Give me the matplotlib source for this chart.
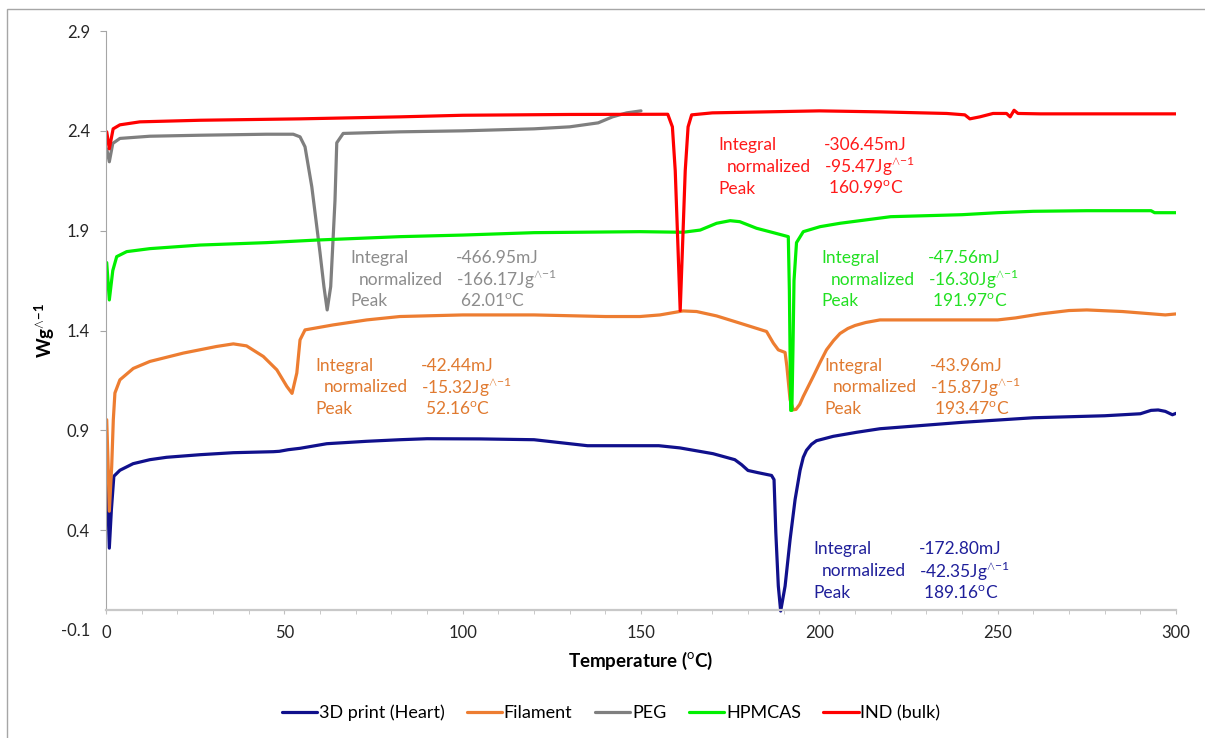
import numpy as np
import matplotlib
matplotlib.use("Agg")
import matplotlib.pyplot as plt
from matplotlib.patches import Rectangle

plt.rcParams['font.family'] = ['Lato', 'DejaVu Sans']
plt.rcParams['mathtext.fontset'] = 'custom'
plt.rcParams['mathtext.rm'] = 'Lato'
plt.rcParams['mathtext.bf'] = 'Lato:bold'

#########################################################
# DATA
#########################################################

print_t = [0.2, 0.6, 0.93, 1.5, 2.2, 3.9, 7.6, 12.3, 17, 26.4, 35.7, 46.9, 48.6, 51.1,
           54.4, 61.9, 73, 82.4, 90, 105, 120, 135, 155, 160.9, 170.2, 176.3, 178.2,
           180, 182.8, 186.6, 187.3, 187.8, 188.5, 189.16, 190.4, 191.8, 193.2, 194.6,
           195.5, 196.4, 197.8, 199.2, 203.9, 210.4, 217, 240, 260, 280, 290, 293, 295,
           297, 299, 300]
print_y = [0.68, 0.5, 0.31, 0.5, 0.67, 0.70, 0.733, 0.753, 0.765, 0.778, 0.788, 0.793,
           0.795, 0.803, 0.81, 0.833, 0.845, 0.853, 0.858, 0.857, 0.853, 0.823, 0.823,
           0.812, 0.783, 0.753, 0.728, 0.699, 0.688, 0.674, 0.653, 0.388, 0.12, -0.005,
           0.12, 0.353, 0.553, 0.70, 0.765, 0.80, 0.83, 0.848, 0.87, 0.89, 0.908, 0.94,
           0.963, 0.973, 0.983, 1.0, 1.002, 0.995, 0.978, 0.985]

fil_t = [0.2, 0.6, 0.93, 1.6, 2.05, 2.5, 3.9, 7.65, 12.3, 21.7, 31, 35.7, 39.4, 44.1,
         47.9, 50.7, 52.16, 53.5, 54.4, 55.8, 63.7, 73.1, 82.4, 100, 120, 140, 149.7,
         155.3, 161.8, 165.6, 171.2, 177.7, 185.2, 187.1, 188.5, 190.4, 190.9, 191.8,
         192.7, 193.47, 194.5, 195.5, 196.9, 198.3, 200.2, 202, 204, 205.8, 208, 210,
         213, 217, 230, 250, 255, 262, 270, 275, 285, 297, 300]
fil_y = [0.953, 0.72, 0.495, 0.72, 0.953, 1.087, 1.153, 1.21, 1.245, 1.287, 1.32, 1.333,
         1.323, 1.27, 1.203, 1.12, 1.085, 1.187, 1.353, 1.403, 1.428, 1.453, 1.47,
         1.478, 1.478, 1.47, 1.47, 1.478, 1.498, 1.495, 1.473, 1.437, 1.395, 1.337,
         1.303, 1.29, 1.22, 1.053, 1.003, 1.005, 1.03, 1.07, 1.12, 1.17, 1.24, 1.303,
         1.35, 1.385, 1.41, 1.425, 1.44, 1.453, 1.453, 1.453, 1.463, 1.483, 1.5, 1.503,
         1.495, 1.478, 1.483]

peg_t = [0.2, 0.93, 1.9, 3.9, 12.3, 26.4, 45, 52.5, 54.4, 55.8, 57.7, 59.1, 60, 61.1,
         62.01, 63, 63.7, 64.2, 64.7, 66.5, 82.4, 100, 120, 130, 138, 142, 146, 150]
peg_y = [2.31, 2.245, 2.337, 2.362, 2.373, 2.378, 2.383, 2.383, 2.37, 2.32, 2.12, 1.92,
         1.79, 1.62, 1.503, 1.62, 1.87, 2.05, 2.34, 2.387, 2.395, 2.40, 2.41, 2.42,
         2.44, 2.47, 2.49, 2.50]

hpm_t = [0.2, 0.93, 1.9, 3, 5.8, 12.3, 26.4, 45, 59.1, 82.4, 100, 120, 149.7, 161.8,
         166.6, 171.2, 175, 177.7, 182.4, 187.1, 191.3, 191.6, 191.85, 191.97, 192.3,
         192.6, 192.9, 193.6, 195.5, 200.2, 205.8, 220, 240, 250, 260, 275, 293, 294,
         300]
hpm_y = [1.74, 1.553, 1.70, 1.77, 1.795, 1.81, 1.828, 1.84, 1.853, 1.87, 1.878, 1.89,
         1.895, 1.892, 1.903, 1.937, 1.95, 1.945, 1.912, 1.89, 1.87, 1.6, 1.2, 1.0,
         1.0, 1.3, 1.65, 1.84, 1.895, 1.92, 1.937, 1.97, 1.98, 1.99, 1.997, 2.0, 2.0,
         1.99, 1.99]

ind_t = [0.2, 0.93, 2, 3.9, 9.5, 26.4, 54.4, 82.4, 100, 130, 157.5, 158.8, 159.6, 160.4,
         160.99, 161.6, 162.4, 163.2, 164.2, 170, 200, 217, 235.7, 240.8, 242.2, 245,
         248.7, 252.5, 253.5, 254.6, 255.7, 262, 300]
ind_y = [2.395, 2.31, 2.41, 2.43, 2.445, 2.453, 2.46, 2.47, 2.478, 2.482, 2.483, 2.42,
         2.2, 1.8, 1.50, 1.8, 2.2, 2.42, 2.48, 2.49, 2.50, 2.495, 2.487, 2.48, 2.46,
         2.47, 2.487, 2.487, 2.47, 2.503, 2.487, 2.485, 2.485]

series_names = ["3D print (Heart)", "Filament", "PEG", "HPMCAS", "IND (bulk)"]
series_colors = ["#10108c", "#ED7D31", "#7f7f7f", "#00f000", "#ff0000"]

# peak annotation blocks: name, text colour, left T, y of first line, values
ann_names = ["IND (bulk)", "PEG", "HPMCAS", "Filament L", "Filament R", "3D print"]
ann_colors = ["#ff1a1a", "#8c8c8c", "#22e022", "#E07A30", "#E07A30", "#1f1f9a"]
ann_left = [171.6, 68.4, 200.7, 58.6, 201.3, 198.2]
ann_top = [2.329, 1.764, 1.764, 1.224, 1.224, 0.304]
ann_integral = ["-306.45", "-466.95", "-47.56", "-42.44", "-43.96", "-172.80"]
ann_normal = ["-95.47", "-166.17", "-16.30", "-15.32", "-15.87", "-42.35"]
ann_peak = ["160.99", "62.01", "191.97", "52.16", "193.47", "189.16"]

x_ticks = [0, 50, 100, 150, 200, 250, 300]
y_ticks = [-0.1, 0.4, 0.9, 1.4, 1.9, 2.4, 2.9]

#########################################################
# FIGURE
#########################################################

fig = plt.figure(figsize=(12.05, 7.38), dpi=100)
ax = fig.add_axes([106 / 1205, 108 / 738, 1070 / 1205, 599 / 738])

fig.patches.append(Rectangle((7 / 1205, -0.2), 1.5, 1.2 - 9 / 738,
                             transform=fig.transFigure, fill=False,
                             edgecolor="#a6a6a6", linewidth=1.0))

data = [(print_t, print_y), (fil_t, fil_y), (peg_t, peg_y),
        (hpm_t, hpm_y), (ind_t, ind_y)]

for (t, y), name, col in zip(data, series_names, series_colors):
    ax.plot(t, y, color=col, linewidth=2.3, label=name,
            solid_joinstyle="round", solid_capstyle="round")

ax.set_xlim(0, 300)
ax.set_ylim(-0.1, 2.9)

ax.set_xticks(x_ticks)
ax.set_xticks(np.arange(0, 301, 10), minor=True)
ax.set_yticks(y_ticks)
ax.set_yticklabels([f"{v:.1f}" for v in y_ticks])

for s in ["top", "right"]:
    ax.spines[s].set_visible(False)

ax.spines["bottom"].set_position(("data", 0))
ax.spines["bottom"].set_color("#c8c8c8")
ax.spines["bottom"].set_linewidth(1.6)
ax.spines["left"].set_color("#a6a6a6")
ax.spines["left"].set_bounds(0, 2.9)

ax.tick_params(axis="x", which="both", direction="out", length=3,
               color="#c0c0c0", labelsize=12, labelcolor="#262626", pad=8)
ax.tick_params(axis="y", direction="out", length=4.5, color="#a6a6a6",
               labelsize=12, labelcolor="#262626", pad=7)
ax.yaxis.get_major_ticks()[0].tick1line.set_visible(False)

ax.set_xlabel("Temperature ($^{\\mathrm{o}}$C)", fontsize=13.5, fontweight="bold",
              labelpad=6)
ax.set_ylabel("Wg$^{\\mathbf{\\wedge{-}1}}$", fontsize=13.5, fontweight="bold",
              labelpad=3)

#########################################################
# ANNOTATIONS
#########################################################

dy = 0.109
col_off = 29.7
indent = 2.4

for i in range(len(ann_names)):
    x0 = ann_left[i]
    y0 = ann_top[i]
    c = ann_colors[i]
    kw = dict(color=c, fontsize=12.5, va="center", ha="left")
    ax.text(x0, y0, "Integral", **kw)
    ax.text(x0 + indent, y0 - dy, "normalized", **kw)
    ax.text(x0, y0 - 2 * dy, "Peak", **kw)
    ax.text(x0 + col_off, y0, ann_integral[i] + "mJ", **kw)
    ax.text(x0 + col_off, y0 - dy,
            ann_normal[i] + "Jg$^{\\mathrm{\\wedge{-}1}}$", **kw)
    ax.text(x0 + col_off + 1.1, y0 - 2 * dy,
            ann_peak[i] + "$^{\\mathrm{o}}$C", **kw)

#########################################################
# LEGEND
#########################################################

ax.legend(loc="center", bbox_to_anchor=(611 / 1205, 25 / 738),
          bbox_transform=fig.transFigure, ncol=5, frameon=False,
          fontsize=13, handlelength=1.95, handletextpad=0.1,
          columnspacing=1.25)

fig.savefig("out.png", dpi=100)
